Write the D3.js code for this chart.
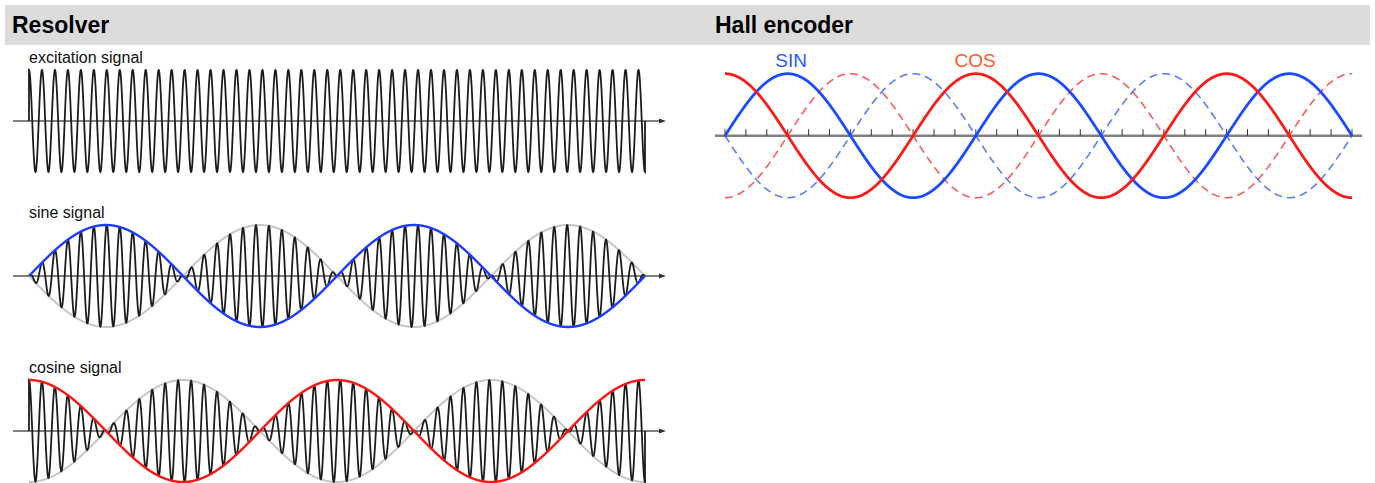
<!DOCTYPE html>
<html>
<head>
<meta charset="utf-8">
<script src="https://d3js.org/d3.v7.min.js"></script>
<style>
  body { margin: 0; background: #fff; }
  text { font-family: "Liberation Sans", Arial, sans-serif; }
</style>
</head>
<body>
<svg id="chart" width="1375" height="483"></svg>
<script>
// Section titles
const titles = ["Resolver", "Hall encoder"];

// Resolver panels: label, envelope kind, envelope colour
const panelLabels = ["excitation signal", "sine signal", "cosine signal"];
const panelEnvelope = ["none", "sin", "cos"];
const panelColors = [null, "#1f3dff", "#ff1414"];
const panelAxisY = [121, 276, 431];

// signal parameters (cycles across the whole trace)
const carrierCycles = 47.5;
const envelopeCycles = 2;

// Hall encoder: electrical angle range (degrees) and tick step
const hallRange = [0, 900];
const hallTickStep = 30;
const hallNames = ["SIN", "COS"];
const hallPhase = [0, 90];        // degrees ahead
const hallColors = ["#1a4bff", "#ff1a1a"];
const hallLabelColors = ["#2a5bff", "#ff5a2a"];
const hallLabelAngle = [95, 359];  // where the name sits along the axis

const svg = d3.select("#chart");

// Header bar
svg.append("rect")
  .attr("x", 5).attr("y", 5)
  .attr("width", 1365).attr("height", 40)
  .attr("fill", "#dcdcdc");

svg.selectAll("text.title")
  .data(titles)
  .join("text")
  .attr("class", "title")
  .attr("x", (d, i) => (i === 0 ? 12 : 715))
  .attr("y", 33)
  .attr("font-size", "23px")
  .attr("font-weight", "bold")
  .attr("fill", "#000")
  .text((d) => d);

// ---------- Resolver ----------
const amp = 51;
const x = d3.scaleLinear().domain([0, 1]).range([29, 645]);
const samples = d3.range(0, 4001).map((i) => i / 4000);

function envelope(kind, t) {
  if (kind === "sin") return Math.sin(2 * Math.PI * envelopeCycles * t);
  if (kind === "cos") return Math.cos(2 * Math.PI * envelopeCycles * t);
  return 1;
}
function carrier(t) {
  return Math.cos(2 * Math.PI * carrierCycles * t);
}

panelLabels.forEach((label, i) => {
  const axisY = panelAxisY[i];
  const y = d3.scaleLinear().domain([-1, 1]).range([axisY + amp, axisY - amp]);
  const g = svg.append("g");
  const kind = panelEnvelope[i];

  g.append("text")
    .attr("x", 29)
    .attr("y", axisY - 58)
    .attr("font-size", "16px")
    .attr("fill", "#111")
    .text(label);

  // axis with arrow
  g.append("line")
    .attr("x1", 13).attr("x2", 662)
    .attr("y1", axisY).attr("y2", axisY)
    .attr("stroke", "#555").attr("stroke-width", 1.4);
  g.append("path")
    .attr("d", `M${659},${axisY - 2.6}L${666},${axisY}L${659},${axisY + 2.6}Z`)
    .attr("fill", "#333");

  const line = d3.line().x((d) => x(d[0])).y((d) => y(d[1]));

  if (kind !== "none") {
    // mirrored grey envelope
    g.append("path")
      .attr("d", line(samples.map((t) => [t, -envelope(kind, t)])))
      .attr("fill", "none").attr("stroke", "#c6c6c6").attr("stroke-width", 2);
  }

  // modulated carrier, closed to the axis at both ends
  const pts = samples.map((t) => [t, envelope(kind, t) * carrier(t)]);
  pts.unshift([0, 0]);
  pts.push([1, 0]);
  g.append("path")
    .attr("d", line(pts))
    .attr("fill", "none").attr("stroke", "#1c1c1c").attr("stroke-width", 1.8);

  if (kind !== "none") {
    g.append("path")
      .attr("d", line(samples.map((t) => [t, envelope(kind, t)])))
      .attr("fill", "none").attr("stroke", panelColors[i]).attr("stroke-width", 2.4);
  }
});

// ---------- Hall encoder ----------
const hx = d3.scaleLinear().domain(hallRange).range([725, 1352]);
const hAxisY = 135.7;
const hy = d3.scaleLinear().domain([-1, 1]).range([hAxisY + 62, hAxisY - 62]);
const hg = svg.append("g");

hg.append("line")
  .attr("x1", 715).attr("x2", 1362)
  .attr("y1", hAxisY).attr("y2", hAxisY)
  .attr("stroke", "#808080").attr("stroke-width", 2.6);

const tickValues = d3.range(hallRange[0], hallRange[1] + 1, hallTickStep);
hg.selectAll("line.tick")
  .data(tickValues)
  .join("line")
  .attr("class", "tick")
  .attr("x1", (d) => hx(d)).attr("x2", (d) => hx(d))
  .attr("y1", hAxisY).attr("y2", hAxisY - 6.5)
  .attr("stroke", "#333").attr("stroke-width", 1);

const angles = d3.range(hallRange[0], hallRange[1] + 0.5, 1);
const hline = d3.line().x((d) => hx(d[0])).y((d) => hy(d[1]));
const rad = (deg) => (deg * Math.PI) / 180;

// inverted (dashed) signals first
hallNames.forEach((name, i) => {
  hg.append("path")
    .attr("d", hline(angles.map((a) => [a, -Math.sin(rad(a + hallPhase[i]))])))
    .attr("fill", "none")
    .attr("stroke", hallColors[i])
    .attr("stroke-opacity", 0.72)
    .attr("stroke-width", 1.6)
    .attr("stroke-dasharray", "8,5");
});

hallNames.forEach((name, i) => {
  hg.append("path")
    .attr("d", hline(angles.map((a) => [a, Math.sin(rad(a + hallPhase[i]))])))
    .attr("fill", "none")
    .attr("stroke", hallColors[i])
    .attr("stroke-width", 2.8);

  hg.append("text")
    .attr("x", hx(hallLabelAngle[i]))
    .attr("y", 66.5)
    .attr("text-anchor", "middle")
    .attr("font-size", "19px")
    .attr("fill", hallLabelColors[i])
    .text(name);
});
</script>
</body>
</html>
